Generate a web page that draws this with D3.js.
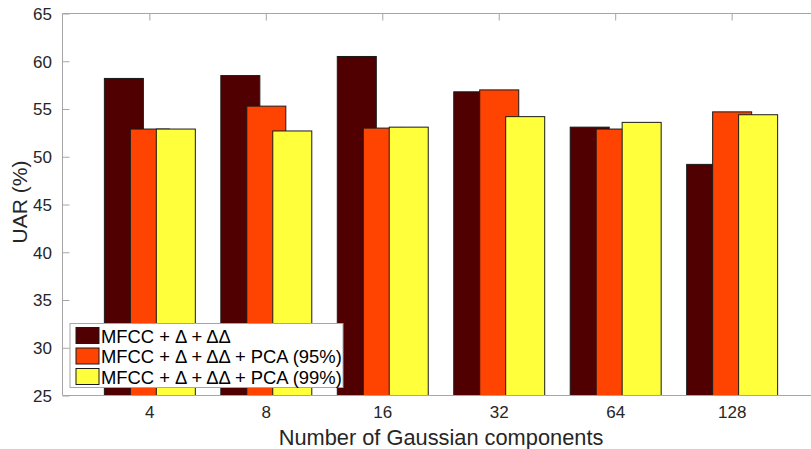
<!DOCTYPE html>
<meta charset="utf-8">
<head>
<style>
  body { margin: 0; background: #fff; }
  svg { display: block; font-family: "Liberation Sans", Arial, sans-serif; }
  .tick text { fill: #262626; }
</style>
</head>
<script src="https://d3js.org/d3.v7.min.js"></script>
<div id="chart"></div>
<script>
// data
var categories = ["4", "8", "16", "32", "64", "128"];
var seriesNames = ["MFCC + \u0394 + \u0394\u0394",
                   "MFCC + \u0394 + \u0394\u0394 + PCA (95%)",
                   "MFCC + \u0394 + \u0394\u0394 + PCA (99%)"];
var mfcc    = [58.2, 58.5, 60.5, 56.8, 53.1, 49.2];
var pca95   = [52.9, 55.3, 53.0, 57.0, 52.9, 54.7];
var pca99   = [52.9, 52.7, 53.1, 54.2, 53.6, 54.4];
var yTicks  = [25, 30, 35, 40, 45, 50, 55, 60, 65];

var seriesValues = [mfcc, pca95, pca99];
var colors = ["#500000", "#ff4300", "#ffff3c"];

var width = 811, height = 449;
var plotLeft = 62.5, plotTop = 13.5, plotBottom = 395.5, plotRight = 819.5;

var svg = d3.select("#chart").append("svg")
    .attr("width", width)
    .attr("height", height);

var x = d3.scaleBand()
    .domain(categories)
    .range([plotLeft, plotRight])
    .paddingInner(0)
    .paddingOuter(0.25);

// offset of each series from the group centre, and bar width
var step = x.step();
var offset = d3.scaleLinear().domain([0, 2]).range([-0.223 * step, 0.223 * step]);
var barW = 0.335 * step;

var y = d3.scaleLinear().domain([25, 65]).range([plotBottom, plotTop]);

// bars, series drawn in order so later ones overlap earlier ones
seriesValues.forEach(function(vals, s) {
  svg.append("g")
    .selectAll("rect")
    .data(vals)
    .enter()
    .append("rect")
      .attr("x", function(d, i) { return x(categories[i]) + x.bandwidth() / 2 + offset(s) - barW / 2; })
      .attr("y", function(d) { return y(d); })
      .attr("width", barW)
      .attr("height", function(d) { return y(25) - y(d); })
      .attr("fill", colors[s])
      .attr("stroke", "#1a1a1a")
      .attr("stroke-width", 1);
});

// box lines
svg.append("path")
  .attr("d", "M" + plotLeft + "," + plotBottom + "V" + plotTop + "H" + plotRight)
  .attr("fill", "none")
  .attr("stroke", "#a6a6a6");
svg.append("line")
  .attr("x1", plotLeft).attr("x2", plotRight)
  .attr("y1", plotBottom).attr("y2", plotBottom)
  .attr("stroke", "#a6a6a6");

// y axis with inward ticks
var yAxis = svg.append("g")
  .attr("transform", "translate(" + plotLeft + ",0)")
  .call(d3.axisLeft(y).tickValues(yTicks).tickSize(-7).tickPadding(10.5));
yAxis.select(".domain").remove();
yAxis.selectAll(".tick line").attr("stroke", "#a6a6a6");
yAxis.selectAll(".tick text").style("font-size", "17px").attr("dy", "0.34em");

// top ticks (MATLAB box style)
var topAxis = svg.append("g")
  .attr("transform", "translate(0," + plotTop + ")")
  .call(d3.axisTop(x).tickSize(-7).tickFormat(""));
topAxis.select(".domain").remove();
topAxis.selectAll(".tick line").attr("stroke", "#a6a6a6");

// x axis labels
var xAxis = svg.append("g")
  .attr("transform", "translate(0," + plotBottom + ")")
  .call(d3.axisBottom(x).tickSize(0).tickPadding(10));
xAxis.select(".domain").remove();
xAxis.selectAll(".tick text").style("font-size", "17px");

// axis titles
svg.append("text")
  .attr("x", 441)
  .attr("y", 445)
  .attr("text-anchor", "middle")
  .attr("fill", "#262626")
  .style("font-size", "21.8px")
  .text("Number of Gaussian components");

svg.append("text")
  .attr("transform", "translate(27,202) rotate(-90)")
  .attr("text-anchor", "middle")
  .attr("fill", "#262626")
  .style("font-size", "21px")
  .text("UAR (%)");

// legend
var legend = svg.append("g").attr("transform", "translate(70,323.5)");
legend.append("rect")
  .attr("x", 0).attr("y", 0)
  .attr("width", 273).attr("height", 64)
  .attr("fill", "#fff")
  .attr("stroke", "#a6a6a6");

var rows = legend.selectAll("g.row")
  .data(seriesNames)
  .enter()
  .append("g")
    .attr("class", "row")
    .attr("transform", function(d, i) { return "translate(0," + (4 + i * 20.5) + ")"; });
rows.append("rect")
  .attr("x", 6).attr("y", 0)
  .attr("width", 23).attr("height", 16)
  .attr("fill", function(d, i) { return colors[i]; })
  .attr("stroke", "#1a1a1a");
rows.append("text")
  .attr("x", 31)
  .attr("y", 15)
  .attr("fill", "#000")
  .style("font-size", "18.4px")
  .text(function(d) { return d; });
</script>
